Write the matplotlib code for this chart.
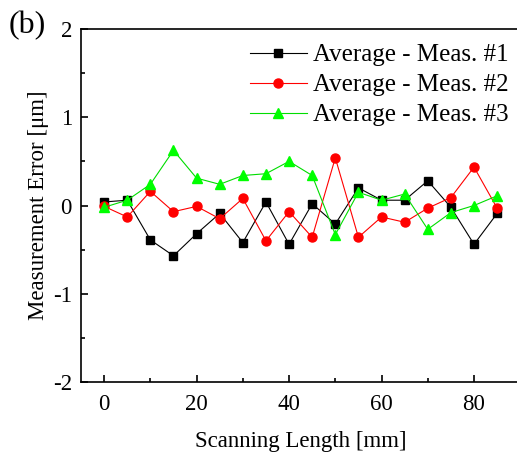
import numpy as np
import matplotlib
matplotlib.use("Agg")
import matplotlib.pyplot as plt
from matplotlib.ticker import MultipleLocator

plt.rcParams['font.family'] = ['Liberation Serif', 'DejaVu Serif']
plt.rcParams['axes.unicode_minus'] = False

# scanning positions [mm]
length = [0, 5, 10, 15, 20, 25, 30, 35, 40, 45, 50, 55, 60, 65, 70, 75, 80, 85]

meas1 = [0.04, 0.06, -0.39, -0.57, -0.32, -0.09, -0.42, 0.04, -0.44,
         0.02, -0.21, 0.20, 0.06, 0.06, 0.28, -0.02, -0.44, -0.09]
meas2 = [-0.01, -0.13, 0.16, -0.07, -0.01, -0.15, 0.08, -0.40, -0.07,
         -0.36, 0.54, -0.36, -0.13, -0.19, -0.03, 0.09, 0.435, -0.03]
meas3 = [-0.02, 0.06, 0.24, 0.625, 0.31, 0.24, 0.34, 0.36, 0.50,
         0.34, -0.33, 0.15, 0.06, 0.13, -0.27, -0.08, 0.0, 0.11]

labels = ['Average - Meas. #1', 'Average - Meas. #2', 'Average - Meas. #3']

W, H = 517, 454
fig = plt.figure(figsize=(W/100, H/100), dpi=100)
# axes runs past the right edge of the image, like the cropped original
ax = fig.add_axes([81/W, (H-382)/H, 439.25/W, 353/H])

ax.plot(length, meas1, '-s', color='black', lw=0.8, ms=6, mec='black', label=labels[0])
ax.plot(length, meas2, '-o', color='red', lw=0.8, ms=6.5, mec='red', label=labels[1])
ax.plot(length, meas3, '-^', color='#00dd00', lw=0.8, ms=7.5, mfc='#00ff00', mec='#00ff00', label=labels[2])

ax.set_xlim(-5, 90)
ax.set_ylim(-2, 2)
ax.xaxis.set_major_locator(MultipleLocator(20))
ax.xaxis.set_minor_locator(MultipleLocator(10))
ax.yaxis.set_major_locator(MultipleLocator(1))
ax.yaxis.set_minor_locator(MultipleLocator(0.5))
ax.tick_params(which='both', direction='in', top=False, right=False, labelsize=16.5, width=1.2)
ax.tick_params(which='major', length=5)
ax.tick_params(which='minor', length=3)
ax.tick_params(axis='x', pad=8.5)
ax.tick_params(axis='y', pad=6.5)
for s in ax.spines.values():
    s.set_linewidth(1.2)

ax.set_xlabel('Scanning Length [mm]', fontsize=16.5, labelpad=12)
ax.set_ylabel('Measurement Error [μm]', fontsize=16.5, labelpad=3)

fig.text(9/W, 1 - 26/H, '(b)', fontsize=23, va='center', ha='left')

fig.legend(loc='upper right', bbox_to_anchor=(509/W, 1 - 44/H), frameon=False,
           fontsize=18, handlelength=2.3, handletextpad=0.25, labelspacing=0.3,
           borderpad=0, borderaxespad=0)

fig.savefig('out.png', dpi=100)
